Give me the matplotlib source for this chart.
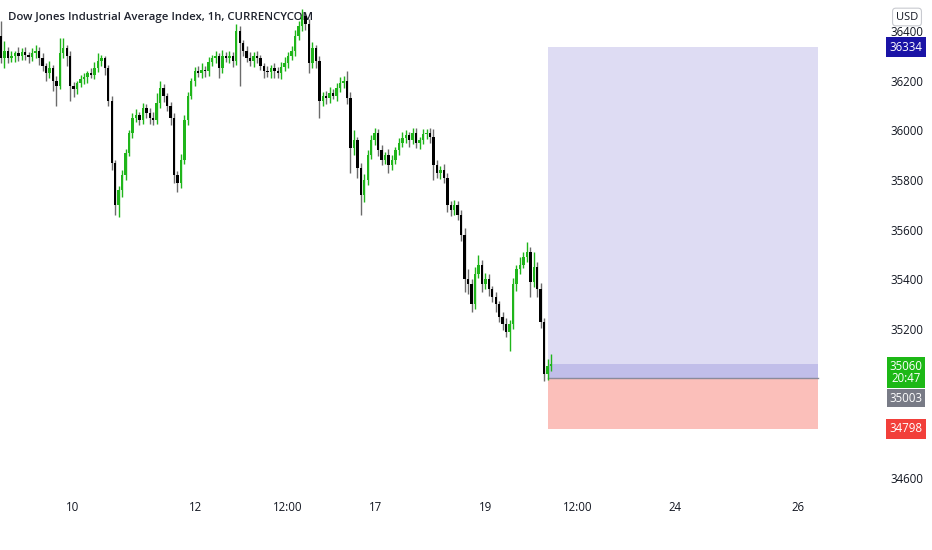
import matplotlib
matplotlib.use("Agg")
import matplotlib.pyplot as plt
import numpy as np

plt.rcParams['font.family'] = ['Open Sans', 'DejaVu Sans']

title = "Dow Jones Industrial Average Index, 1h, CURRENCYCOM"

# hourly closes
first_open = 36380
closes = [
    36290, 36320, 36290, 36300, 36310, 36300, 36315, 36305, 36295, 36310,
    36320, 36290, 36260, 36230, 36250, 36200, 36180, 36310, 36330, 36300,
    36180, 36165, 36190, 36205, 36215, 36230, 36225, 36250, 36280, 36290,
    36250, 36120, 35870, 35700, 35760, 35820, 35910, 35990, 36050, 36060,
    36040, 36090, 36070, 36050, 36040, 36110, 36170, 36140, 36100, 36050,
    35820, 35790, 35880, 36040, 36140, 36200, 36240, 36230, 36245, 36240,
    36275, 36290, 36300, 36250, 36300, 36290, 36300, 36280, 36400, 36350,
    36320, 36290, 36280, 36300, 36290, 36260, 36240, 36235, 36250, 36240,
    36230, 36255, 36270, 36300, 36320, 36380, 36420, 36460, 36430, 36270,
    36330, 36280, 36120, 36140, 36130, 36150, 36140, 36170, 36190, 36200,
    36130, 35930, 35960, 35850, 35740, 35800, 35900, 35960, 35990, 35920,
    35880, 35900, 35860, 35880, 35920, 35950, 35970, 35980, 35960, 35990,
    35950, 35960, 35985, 35990, 35975, 35860, 35830, 35840, 35810, 35700,
    35680, 35700, 35660, 35580, 35400, 35380, 35300, 35420, 35460, 35380,
    35400, 35360, 35330, 35300, 35250, 35220, 35190, 35220, 35380, 35440,
    35460, 35490, 35510, 35390, 35450, 35360, 35230, 35020, 35050, 35060,
]
upper_wick = [
    60, 40, 15, 20, 10, 25, 15, 20, 10, 20, 25, 15, 20, 10, 30, 15, 20, 60, 40, 15,
    20, 15, 10, 20, 15, 10, 20, 25, 30, 15, 10, 15, 20, 10, 15, 20, 15, 10, 20, 25,
    15, 20, 15, 20, 25, 40, 30, 15, 10, 15, 20, 15, 25, 20, 15, 10, 15, 20, 25, 15,
    20, 15, 20, 10, 25, 15, 20, 15, 30, 20, 15, 20, 25, 15, 20, 15, 10, 20, 15, 20,
    15, 20, 25, 15, 20, 25, 20, 30, 15, 20, 25, 15, 20, 15, 20, 25, 15, 20, 25, 20,
    40, 25, 40, 15, 20, 25, 20, 20, 20, 15, 20, 15, 25, 20, 15, 20, 25, 20, 15, 20,
    20, 15, 20, 15, 20, 30, 20, 15, 25, 20, 15, 20, 15, 20, 25, 40, 20, 30, 40, 20,
    25, 20, 15, 20, 15, 20, 25, 15, 25, 20, 30, 20, 40, 20, 60, 20, 25, 15, 30, 40,
]
lower_wick = [
    20, 40, 20, 15, 25, 20, 15, 20, 25, 15, 20, 25, 20, 30, 20, 40, 80, 15, 20, 40,
    60, 30, 20, 15, 20, 25, 15, 20, 15, 20, 25, 20, 30, 40, 50, 30, 20, 15, 20, 15,
    20, 15, 20, 25, 20, 15, 20, 25, 20, 30, 30, 40, 20, 15, 20, 15, 20, 15, 20, 25,
    20, 15, 20, 40, 20, 15, 20, 25, 15, 170, 20, 15, 20, 25, 20, 15, 30, 20, 25, 30,
    20, 25, 15, 20, 15, 20, 15, 20, 25, 40, 20, 30, 70, 20, 25, 20, 15, 20, 15, 20,
    25, 100, 30, 40, 80, 30, 20, 15, 20, 25, 20, 15, 30, 20, 15, 20, 15, 20, 25, 15,
    20, 25, 15, 20, 25, 60, 20, 25, 20, 30, 25, 20, 20, 25, 50, 40, 30, 20, 15, 30,
    20, 25, 20, 30, 20, 25, 20, 80, 20, 25, 20, 15, 20, 60, 20, 30, 25, 30, 25, 20,
]

x_tick_pos = [20.8, 56.1, 82.9, 108.4, 140.2, 166.8, 194.8, 230.3]
x_tick_labels = ["10", "12", "12:00", "17", "19", "12:00", "24", "26"]
# 35000 and 34800 sit under the price tags, so they are not shown
y_ticks = [34600, 35200, 35400, 35600, 35800, 36000, 36200, 36400]

# long position tool
entry = 35003
target = 36334
stop = 34798
last_price = 35060
box_start, box_end = 158.1, 236.1

up_col = "#1fb51a"
dn_col = "#000000"

closes = np.array(closes, dtype=float)
opens = np.concatenate([[first_open], closes[:-1]])
highs = np.maximum(opens, closes) + np.array(upper_wick)
lows = np.minimum(opens, closes) - np.array(lower_wick)
idx = np.arange(len(closes))
up = closes >= opens

fig = plt.figure(figsize=(9.32, 5.5), dpi=100)
ax = fig.add_axes([0, 0.1, 850 / 932, 0.9])

# position boxes
ax.fill_between([box_start, box_end], entry, target, color="#dedcf3", lw=0, zorder=1)
ax.fill_between([box_start, box_end], entry, last_price, color="#c1bee9", lw=0, zorder=1)
ax.fill_between([box_start, box_end], stop, entry, color="#fbbfba", lw=0, zorder=1)
ax.plot([box_start, box_end], [entry, entry], color="#8a8a9a", lw=1, zorder=2)

# candles
wick_cols = np.where(up, up_col, "#6b6b6b")
ax.vlines(idx, lows, highs, colors=wick_cols, lw=1, zorder=3)
body_bottom = np.minimum(opens, closes)
body_h = np.maximum(np.abs(closes - opens), 4)
ax.bar(idx, body_h, bottom=body_bottom, width=0.7,
       color=np.where(up, up_col, dn_col), lw=0, zorder=4)

ax.set_xlim(-0.29, 245.4)
ax.set_ylim(34532, 36525)
for s in ax.spines.values():
    s.set_visible(False)

ax.set_xticks(x_tick_pos)
ax.set_xticklabels(x_tick_labels)
ax.yaxis.tick_right()
ax.set_yticks(y_ticks)
ax.tick_params(axis='both', length=0, labelsize=8.3, labelcolor="#131722")
ax.tick_params(axis='y', pad=29)
ax.tick_params(axis='x', pad=4)

ax.text(0.009, 0.965, title, transform=ax.transAxes, fontsize=8.2,
        fontweight='semibold', color="#1e222d", va='center', ha='left')

# price tags on the axis
tr = ax.get_yaxis_transform()
def tag(price, text, bg, fg="white", dy=0, va='center', pad=0.3, ls=1.0):
    ax.annotate(text, xy=(1.066, price), xycoords=tr, xytext=(0, dy),
                textcoords='offset pixels', ha='center', va=va,
                fontsize=8.3, color=fg, linespacing=ls, annotation_clip=False,
                bbox=dict(boxstyle='square,pad=%s' % pad, fc=bg, ec='none'))

tag(target, "36334", "#1a13a6")
tag(last_price, "35060\n20:47", "#1db816", dy=4, va='top', pad=0.25, ls=0.92)
tag(entry, "35003", "#787b86", dy=-20, pad=0.25)
tag(stop, "34798", "#f23f3a")

fig.text(907 / 932, 1 - 17 / 550, "USD", ha='center', va='center', fontsize=8,
         color="#131722",
         bbox=dict(boxstyle='round,pad=0.3', fc='white', ec='#c8cad0', lw=0.8))

fig.savefig("out.png", dpi=100)
